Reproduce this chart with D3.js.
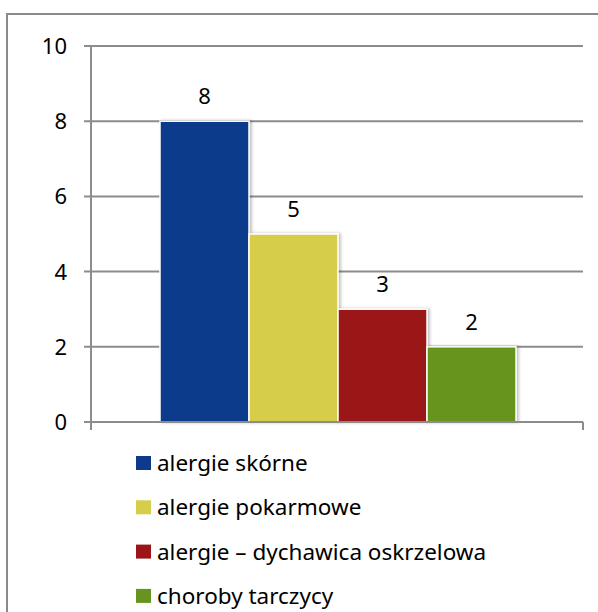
<!DOCTYPE html>
<html>
<head>
<meta charset="utf-8">
<script src="https://cdn.jsdelivr.net/npm/d3@7"></script>
<style>
  body { margin: 0; background: #fff; }
  svg text { font-family: "Noto Sans", "Open Sans", sans-serif; fill: #000; }
</style>
</head>
<body>
<svg width="598" height="612"></svg>
<script>
const categories = ['alergie skórne', 'alergie pokarmowe', 'alergie – dychawica oskrzelowa', 'choroby tarczycy'];
const values = [8, 5, 3, 2];
const colors = ['#0e3a8c', '#d6cd4a', '#9b1418', '#66941e'];
const yTicks = [0, 2, 4, 6, 8, 10];

const svg = d3.select('svg');

// outer frame, runs off the right and bottom edges
svg.append('rect')
  .attr('x', 7).attr('y', 14)
  .attr('width', 620).attr('height', 640)
  .attr('fill', 'none')
  .attr('stroke', '#8a8a8a')
  .attr('stroke-width', 2);

const plot = { left: 91, right: 583, top: 46, bottom: 422 };

const y = d3.scaleLinear().domain([0, 10]).range([plot.bottom, plot.top]);
const x = d3.scaleBand().domain(categories).range([160, 516]).paddingInner(0);

// gridlines
svg.append('g')
  .selectAll('line')
  .data(yTicks.filter(d => d > 0))
  .join('line')
  .attr('x1', plot.left - 7)
  .attr('x2', plot.right)
  .attr('y1', d => y(d))
  .attr('y2', d => y(d))
  .attr('stroke', '#8c8c8c')
  .attr('stroke-width', 2);

// y tick labels
svg.append('g')
  .selectAll('text')
  .data(yTicks)
  .join('text')
  .attr('x', 67)
  .attr('y', d => y(d))
  .attr('dy', '0.36em')
  .attr('text-anchor', 'end')
  .attr('font-size', 22)
  .text(d => d);

// bars with a faint shadow
const shadow = svg.append('defs').append('filter')
  .attr('id', 'shadow')
  .attr('x', '-10%').attr('y', '-10%')
  .attr('width', '130%').attr('height', '120%');
shadow.append('feDropShadow')
  .attr('dx', 2).attr('dy', 0)
  .attr('stdDeviation', 1.5)
  .attr('flood-color', '#000')
  .attr('flood-opacity', 0.25);

svg.append('g')
  .selectAll('rect')
  .data(values)
  .join('rect')
  .attr('x', (d, i) => x(categories[i]))
  .attr('y', d => y(d))
  .attr('width', x.bandwidth())
  .attr('height', d => y(0) - y(d))
  .attr('fill', (d, i) => colors[i])
  .attr('stroke', '#fff')
  .attr('stroke-width', 1.5)
  .attr('filter', 'url(#shadow)');

// value labels
svg.append('g')
  .selectAll('text')
  .data(values)
  .join('text')
  .attr('x', (d, i) => x(categories[i]) + x.bandwidth() / 2)
  .attr('y', d => y(d) - 17)
  .attr('text-anchor', 'middle')
  .attr('font-size', 22)
  .text(d => d);

// axes lines
const axisColor = '#8c8c8c';
svg.append('line')
  .attr('x1', plot.left).attr('x2', plot.left)
  .attr('y1', plot.top).attr('y2', plot.bottom + 8)
  .attr('stroke', axisColor).attr('stroke-width', 2);
svg.append('line')
  .attr('x1', plot.left - 7).attr('x2', plot.right)
  .attr('y1', plot.bottom).attr('y2', plot.bottom)
  .attr('stroke', axisColor).attr('stroke-width', 2);
svg.append('line')
  .attr('x1', plot.right).attr('x2', plot.right)
  .attr('y1', plot.bottom).attr('y2', plot.bottom + 8)
  .attr('stroke', axisColor).attr('stroke-width', 2);

// legend
const legend = svg.append('g')
  .selectAll('g')
  .data(categories)
  .join('g')
  .attr('transform', (d, i) => `translate(136, ${463 + i * 44.3})`);

legend.append('rect')
  .attr('x', 0).attr('y', -7)
  .attr('width', 15).attr('height', 14)
  .attr('fill', (d, i) => colors[i]);

legend.append('text')
  .attr('x', 21)
  .attr('y', 0)
  .attr('dy', '0.36em')
  .attr('font-size', 22.5)
  .text(d => d);
</script>
</body>
</html>
